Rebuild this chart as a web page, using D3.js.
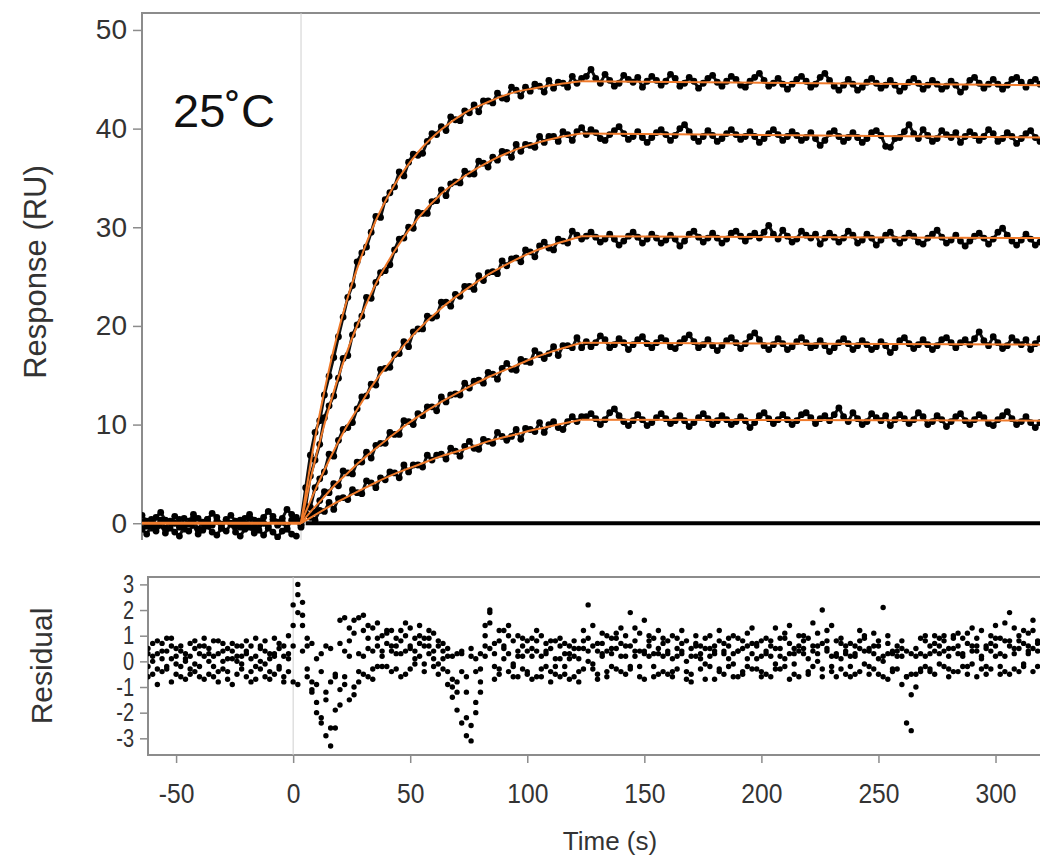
<!DOCTYPE html>
<html>
<head>
<meta charset="utf-8">
<script src="https://cdn.jsdelivr.net/npm/d3@7"></script>
<style>
  body { margin: 0; background: #fff; }
  svg { display: block; font-family: "Liberation Sans", Arial, sans-serif; }
</style>
</head>
<body>
<svg id="chart" width="1040" height="868"></svg>
<script>
// ---- sensorgram data (RU), sampled every 2 s from t = 0 ----
const dataStart = 0
const dataStep = 2
const resp1 = [0.2,3.6,6.9,9.2,10.4,13.0,14.9,16.8,18.9,20.9,22.9,24.1,26.5,27.4,28.0,29.5,31.1,31.0,32.8,33.5,34.1,35.6,35.2,36.6,37.4,37.3,37.5,38.7,39.5,39.4,40.2,39.8,41.2,40.9,40.8,41.8,41.6,42.4,41.7,42.8,42.8,42.6,43.6,43.1,43.0,44.2,43.9,43.3,44.2,43.8,44.5,44.3,43.7,44.9,44.1,44.7,44.6,44.2,45.3,44.6,45.1,
  45.3,46.0,45.1,44.6,45.5,44.9,44.3,44.6,45.4,45.0,44.7,45.2,44.2,44.8,45.3,44.9,44.4,44.8,45.5,45.1,44.3,44.6,45.2,44.8,44.1,44.6,45.1,45.4,44.7,44.3,44.8,45.3,45.0,44.4,44.2,44.8,45.2,45.6,44.9,44.3,44.6,45.1,44.5,44.0,44.5,45.0,45.3,44.8,44.2,44.5,45.2,45.6,44.9,44.3,43.9,44.4,45.0,44.5,43.9,44.2,44.7,45.1,44.6,44.1,44.4,44.9,44.4,43.8,44.2,44.7,45.1,44.6,44.0,44.4,44.9,44.5,44.0,44.3,44.8,44.4,43.7,44.2,44.9,45.2,44.6,44.1,44.5,45.0,44.5,44.0,44.4,45.0,45.2,44.7,44.2,44.7,45.0,44.5]
const resp2 = [-0.2,1.7,4.8,6.4,8.0,10.7,11.9,12.9,14.7,16.7,17.0,19.1,20.1,21.0,22.9,22.8,24.4,25.4,25.6,26.2,27.7,28.8,28.9,30.0,29.9,31.5,31.4,31.4,32.6,32.7,33.8,33.2,34.4,34.6,34.5,35.7,35.4,35.4,36.7,36.5,36.1,37.1,36.8,37.7,37.6,37.1,38.4,37.7,38.4,38.3,38.1,39.2,38.6,39.2,39.2,38.7,39.7,39.4,38.8,39.7,40.1,
  39.4,39.9,39.6,39.0,38.8,39.4,39.8,40.2,39.5,38.9,39.2,39.7,39.1,38.6,39.1,39.6,39.9,39.4,38.8,39.3,40.0,40.4,39.7,39.1,38.7,39.2,39.8,39.3,38.7,39.0,39.5,39.9,39.4,38.9,39.2,39.7,39.2,38.6,39.0,39.5,39.9,39.4,38.8,39.2,39.7,39.3,38.8,39.1,39.6,39.0,38.3,38.8,39.5,39.8,39.2,38.7,39.1,39.6,39.1,38.6,39.0,39.6,39.8,39.3,38.2,38.1,39.0,39.1,39.7,40.4,39.5,39.0,39.9,39.3,38.7,39.0,39.8,39.4,39.1,39.6,38.6,39.2,39.7,39.3,38.8,39.2,39.9,39.5,38.7,39.0,39.6,39.2,38.5,39.0,39.5,39.8,39.1,38.7]
const resp3 = [-0.1,1.6,1.6,3.6,4.5,5.2,7.0,6.8,8.4,9.5,9.7,10.2,11.6,12.8,12.9,14.1,14.0,15.6,15.7,15.8,17.1,17.2,18.4,17.9,19.4,19.7,19.7,21.0,20.8,21.0,22.4,22.4,22.0,23.2,23.0,24.0,24.0,23.7,25.1,24.6,25.4,25.5,25.3,26.6,26.1,26.8,26.9,26.5,27.7,27.5,27.0,28.1,28.5,27.9,27.7,28.8,28.6,28.4,29.6,29.2,28.8,
  29.1,29.5,29.0,28.5,28.8,29.3,28.8,28.2,28.6,29.1,29.5,29.0,28.4,28.8,29.3,28.9,28.4,28.7,29.2,28.8,28.1,28.6,29.3,29.6,29.0,28.5,28.9,29.4,28.9,28.4,28.8,29.4,29.6,29.1,28.6,29.1,29.4,28.9,29.5,30.2,29.3,28.8,29.7,29.1,28.5,28.8,29.6,29.2,28.9,29.3,28.3,28.9,29.4,29.0,28.5,28.9,29.6,29.2,28.4,28.7,29.3,28.9,28.2,28.7,29.2,29.5,28.8,28.4,28.9,29.4,29.1,28.5,28.3,28.9,29.3,29.7,29.0,28.4,28.7,29.2,28.6,28.1,28.6,29.1,29.4,28.9,28.3,28.8,29.5,29.9,29.2,28.6,28.2,28.7,29.3,28.8,28.2,28.5]
const resp4 = [0.2,1.0,0.8,1.1,2.3,3.2,3.1,4.0,3.8,5.3,5.1,5.0,6.2,6.2,7.2,6.6,7.9,8.1,8.1,9.2,9.0,9.0,10.4,10.3,10.0,11.1,10.9,11.8,11.8,11.4,12.8,12.3,13.0,13.1,13.0,14.2,13.7,14.4,14.5,14.2,15.3,15.1,14.6,15.7,16.2,15.6,15.5,16.6,16.4,16.3,17.5,17.1,16.7,17.2,17.9,17.0,18.0,18.0,17.8,18.8,17.8,
  18.4,17.9,18.3,19.0,18.6,17.8,18.1,18.7,18.3,17.6,18.1,18.6,18.9,18.2,17.8,18.3,18.8,18.5,17.9,17.7,18.3,18.7,19.1,18.4,17.8,18.1,18.6,18.0,17.5,18.0,18.5,18.8,18.3,17.7,18.2,18.9,19.3,18.6,18.0,17.6,18.1,18.7,18.2,17.6,17.9,18.4,18.8,18.3,17.8,18.0,18.5,18.0,17.4,17.8,18.3,18.7,18.2,17.6,18.0,18.5,18.1,17.6,17.9,18.4,18.0,17.3,17.8,18.5,18.8,18.2,17.7,18.1,18.6,18.1,17.6,18.0,18.6,18.8,18.3,17.8,18.3,18.6,18.1,18.7,19.4,18.5,18.0,18.9,18.3,17.7,18.0,18.8,18.4,18.1,18.6,17.6,18.2,18.7]
const resp5 = [-0.4,0.9,0.6,0.3,1.3,1.2,2.1,1.4,2.5,2.6,2.4,3.4,3.1,3.0,4.3,4.1,3.6,4.6,4.4,5.2,5.1,4.6,5.9,5.2,5.9,5.9,5.7,6.9,6.4,6.9,7.0,6.5,7.6,7.3,6.8,7.8,8.3,7.6,7.5,8.5,8.3,8.1,9.2,8.8,8.4,8.8,9.5,8.5,9.6,9.5,9.3,10.2,9.2,10.0,10.3,9.7,9.5,10.3,10.8,10.3,10.8,
  10.8,11.1,10.6,10.0,10.5,11.2,11.6,10.9,10.3,9.9,10.4,11.0,10.5,9.9,10.2,10.7,11.1,10.6,10.1,10.4,10.9,10.4,9.8,10.2,10.7,11.1,10.6,10.0,10.4,10.9,10.5,10.0,10.3,10.8,10.4,9.7,10.2,10.9,11.2,10.6,10.1,10.5,11.0,10.5,10.0,10.4,11.0,11.2,10.7,10.1,10.6,10.9,10.4,11.0,11.7,10.8,10.3,11.2,10.6,10.0,10.3,11.1,10.7,10.4,10.9,9.9,10.5,11.0,10.6,10.1,10.5,11.2,10.8,10.0,10.3,10.9,10.5,9.8,10.3,10.8,11.1,10.4,10.0,10.5,11.0,10.7,10.1,9.9,10.5,10.9,11.3,10.6,10.0,10.3,10.8,10.2,9.7,10.2]

// pre-injection baseline cloud, every 2 s from t = -68
const baseStart = -68
const baseA = [0.8,0.2,-0.5,0.6,1.1,0.3,-0.2,0.7,0.4,-0.6,0.2,0.9,0.5,-0.3,0.4,1.0,0.6,-0.1,0.3,0.8,0.2,-0.4,0.5,0.9,0.3,-0.2,0.6,1.2,0.7,0.1,0.5,1.4,0.9,0.3]
const baseB = [-0.6,-1.1,-0.3,-0.8,-0.2,-1.0,-0.5,-0.9,-1.3,-0.4,-0.8,-0.2,-1.1,-0.7,-0.3,-0.9,-1.2,-0.5,-0.8,-0.1,-0.9,-1.3,-0.6,-0.4,-1.0,-0.7,-1.2,-0.5,-0.9,-1.4,-0.8,-0.6,-1.1,-1.3]
const baseC = [0.1,-0.3,0.4,-0.2,0.3,-0.5,0.2,0.0,-0.4,0.5,-0.1,0.3,-0.6,0.1,0.4,-0.2,0.2,-0.5,0.4,0.0,-0.3,0.3,-0.1,0.5,-0.4,0.2,0.0,-0.3,0.4,-0.2,0.1,-0.5,0.3,0.6]

// zero-concentration trace
const blankTimes = [2, 316]
const blankResp = [0, 0]

// fitted curves (orange): association 0-120 s, then dissociation to 316 s
const fitTimes = [0, 5, 10, 15, 20, 25, 30, 40, 50, 60, 70, 80, 90, 100, 110, 120]
const fit1 = [0, 7.3, 13.4, 18.6, 22.9, 26.5, 29.6, 34.3, 37.6, 39.9, 41.6, 42.7, 43.6, 44.1, 44.5, 44.8]
const fit2 = [0, 5.4, 10.0, 14.1, 17.6, 20.6, 23.3, 27.6, 30.9, 33.4, 35.2, 36.6, 37.7, 38.5, 39.1, 39.5]
const fit3 = [0, 2.8, 5.4, 7.8, 10.0, 11.9, 13.8, 16.9, 19.6, 21.8, 23.6, 25.2, 26.5, 27.6, 28.4, 29.1]
const fit4 = [0, 1.4, 2.7, 4.0, 5.1, 6.2, 7.2, 9.1, 10.8, 12.3, 13.6, 14.8, 15.8, 16.8, 17.6, 18.3]
const fit5 = [0, 0.7, 1.4, 2.1, 2.7, 3.3, 3.9, 5.0, 5.9, 6.8, 7.5, 8.3, 8.9, 9.5, 10.0, 10.5]
const dissocTimes = [120, 316]
const fitEnd = [44.4, 39.1, 28.9, 18.1, 10.4]

// residuals, every 2 s from t = -62
const resStart = -62
const resA = [0.3,-0.5,0.8,0.1,-0.3,0.6,-0.1,0.4,-0.7,0.2,0.5,-0.2,0.9,0.0,-0.6,0.3,0.7,-0.4,0.1,0.6,-0.3,0.4,-0.8,0.2,0.5,-0.1,0.3,-0.5,0.7,0.2,-0.4,0.6,2.6,1.8,0.9,-0.8,-1.6,-2.2,-2.9,-3.3,-2.6,-1.7,-0.9,0.8,1.6,-0.4,1.2,0.5,-0.7,0.9,0.2,1.1,0.6,-0.3,0.8,0.4,1.3,0.1,0.7,0.9,0.3,-0.2,0.6,0.1,-0.9,-1.4,-1.9,-2.4,-2.9,-2.5,-1.6,-0.8,1.4,1.9,0.7,-0.3,0.5,1.0,-0.1,0.4,0.6,-0.5,0.2,0.8,-0.3,0.4,-0.8,0.1,0.6,-0.2,0.3,-0.6,0.5,1.2,0.4,-0.1,0.7,0.2,-0.4,0.9,0.5,1.3,0.2,-0.3,0.8,0.4,1.6,0.6,-0.2,0.3,0.7,-0.5,0.1,0.9,0.4,-0.7,0.2,0.6,-0.3,0.5,1.0,0.3,-0.4,0.7,0.1,-0.6,0.4,0.8,-0.2,0.3,0.6,-0.4,0.9,0.2,-0.1,0.5,1.1,0.3,-0.5,0.4,0.8,0.1,1.5,0.6,-0.3,0.5,0.2,-0.6,0.7,0.3,-0.2,0.6,1.2,0.4,-0.5,0.3,0.8,0.0,-0.7,0.4,0.6,-0.9,-2.4,-1.3,0.5,0.9,0.2,-0.4,0.7,0.3,0.8,-0.3,0.5,1.1,0.2,-0.5,0.6,0.9,0.1,-0.2,0.7,1.4,0.3,-0.4,0.8,0.5,1.0,-0.1,0.6,1.2,0.4]
const resB = [-0.6,0.2,-0.3,0.7,0.4,-0.8,0.5,-0.2,0.3,-0.5,-0.1,0.6,-0.7,0.3,0.8,-0.4,0.0,0.5,-0.9,0.2,0.6,-0.6,0.1,0.9,-0.3,0.4,-0.7,0.3,-0.2,0.6,1.0,2.2,3.0,1.4,-0.3,-1.2,-2.0,-2.4,-1.5,-2.6,-1.9,-1.1,1.7,1.3,-1.0,0.3,1.8,-0.6,0.4,1.5,-0.2,0.7,1.2,0.3,-0.6,1.0,0.5,-0.1,1.4,0.6,0.9,0.4,-0.5,0.7,0.2,-0.7,-1.2,-0.4,-2.2,-3.1,-2.0,-1.2,0.6,1.5,-0.2,0.8,1.2,0.3,-0.6,1.0,0.2,0.8,-0.7,0.4,1.0,-0.2,0.5,-0.5,0.9,0.3,-0.7,0.8,0.1,-0.3,2.2,0.6,-0.5,1.1,0.4,-0.2,0.9,-0.4,0.6,1.9,0.2,-0.6,0.4,1.0,0.3,-0.5,0.2,0.8,-0.4,0.5,1.2,0.0,-0.8,0.7,0.3,-0.1,0.5,-0.7,0.8,0.3,-0.2,1.0,0.4,-0.5,0.6,1.3,0.1,-0.6,0.4,0.8,-0.3,0.2,0.9,-0.7,0.5,1.0,0.3,-0.4,0.6,1.1,2.0,0.4,-0.2,0.8,0.1,-0.5,0.7,0.2,-0.4,1.0,0.5,-0.3,0.6,2.1,0.3,-0.4,0.2,0.8,0.4,-0.5,-0.5,0.3,-0.2,0.6,1.0,-0.1,0.4,-0.6,0.9,0.3,-0.2,0.7,1.3,0.4,-0.3,0.6,1.0,0.2,-0.5,0.8,1.9,0.3,-0.4,0.7,1.1,0.5,-0.2]
const resC = [0.5,0.0,-0.9,0.4,-0.2,0.9,0.2,-0.6,0.1,0.7,-0.4,0.3,0.6,-0.5,0.2,0.8,-0.3,-0.7,0.4,0.0,0.2,0.8,-0.4,-0.2,0.6,-0.6,0.1,0.9,-0.3,-0.6,0.3,-0.8,1.9,0.4,-0.6,0.7,-0.9,0.3,-1.2,0.5,-0.5,1.6,0.4,-1.5,1.1,-0.8,0.2,1.4,-0.3,0.6,1.0,-0.2,0.4,0.9,1.2,-0.5,0.6,0.9,0.2,-0.4,0.6,1.1,-0.1,0.4,-0.4,0.2,-0.8,0.3,-1.2,0.5,0.1,0.3,1.0,0.5,-0.7,1.2,0.1,-0.4,0.8,-0.6,-0.3,0.4,0.9,-0.6,0.2,0.7,-0.4,0.8,0.1,-0.5,0.6,0.2,-0.8,0.5,0.9,-0.3,0.4,0.7,-0.6,0.3,1.1,0.2,-0.5,0.6,1.3,-0.2,0.3,0.8,-0.6,0.5,0.9,0.3,-0.6,0.2,0.7,-0.4,0.5,1.0,0.1,-0.7,0.2,0.6,-0.3,0.4,0.9,-0.1,-0.6,0.5,1.1,-0.3,0.7,0.2,-0.5,0.6,1.3,-0.3,0.1,0.7,0.3,-0.6,0.5,0.9,-0.2,0.3,0.7,1.2,-0.4,0.2,0.9,0.4,-0.6,0.3,0.8,-0.1,0.4,1.1,-0.5,0.2,0.7,-0.3,0.4,0.2,-0.6,-2.7,-1.0,-0.3,0.8,0.3,-0.5,0.6,1.0,0.2,-0.4,0.6,0.9,-0.2,0.4,-0.6,1.2,0.5,-0.3,0.6,0.9,0.2,-0.5,1.3,0.8,-0.2,0.4,1.6,0.7]
const resD = [-0.2,0.7,0.3,-0.4,0.9,0.1,-0.5,0.6,0.0,-0.3,0.8,-0.6,0.2,0.5,-0.2,-0.8,0.4,0.1,0.7,-0.5,-0.1,0.3,0.6,-0.7,0.0,0.8,-0.4,0.2,0.5,-0.8,0.1,1.4,-0.9,2.3,0.6,-1.1,0.1,-0.4,0.6,-0.8,-0.6,0.7,-0.6,0.2,-1.3,1.7,-0.5,0.9,1.3,-0.2,0.4,1.2,-0.4,0.6,0.3,1.5,-0.3,0.4,1.0,-0.1,1.2,0.1,0.8,-0.3,0.5,-1.0,0.3,0.4,-0.6,0.2,-0.4,-0.3,0.2,2.0,0.3,-0.5,0.6,1.4,-0.2,0.2,0.9,-0.4,0.5,1.2,-0.6,0.3,0.8,-0.2,-0.6,0.7,0.1,0.5,-0.4,0.8,0.0,1.4,-0.7,0.3,1.0,0.5,-0.3,0.7,1.0,-0.2,0.4,1.1,-0.7,0.2,0.9,1.2,-0.4,0.4,1.0,-0.3,0.3,0.8,-0.5,0.2,0.6,0.9,-0.2,0.4,1.2,-0.5,0.6,0.3,0.9,-0.4,0.1,0.7,-0.3,0.8,0.3,-0.6,0.5,0.9,-0.2,1.4,-0.1,0.6,1.0,-0.5,0.4,0.0,-0.6,0.8,1.4,0.3,-0.3,0.6,0.2,-0.5,0.5,0.9,-0.2,0.6,0.1,-0.6,1.0,0.3,-0.3,0.5,-0.6,0.3,0.2,-0.4,1.0,-0.3,0.4,0.9,-0.2,0.5,1.0,-0.4,0.3,1.1,-0.1,0.6,0.2,-0.5,0.4,0.9,-0.2,1.5,0.6,-0.3,0.5,1.2,0.3,-0.4,0.8]

const respTicks = [0, 10, 20, 30, 40, 50]
const residTicks = [-3, -2, -1, 0, 1, 2, 3]
const timeTicks = [-50, 0, 50, 100, 150, 200, 250, 300]

// ---- layout ----
const svg = d3.select("#chart")
const textColor = "#333"
const frameColor = "#8c8c8c"
const orange = "#f07a2a"
const fontFamily = "'Liberation Sans', Arial, sans-serif"
const plainNum = d => String(d)   // keep hyphen-minus like the original

const panelTop = { left: 142, right: 1046, top: 13, bottom: 540 }
const panelRes = { left: 148, right: 1046, top: 577, bottom: 755 }

const xTop = d3.scaleLinear().domain([-68, 316]).range([142, 1040])
const yTop = d3.scaleLinear().domain([-1.7, 51.75]).range([540, 12.7])
const xRes = d3.scaleLinear().domain([-62, 319]).range([148, 1040])
const yRes = d3.scaleLinear().domain([-3.65, 3.3]).range([755, 576.7])

const defs = svg.append("defs")
defs.append("clipPath").attr("id", "clipTop").append("rect")
  .attr("x", panelTop.left).attr("y", panelTop.top)
  .attr("width", panelTop.right - panelTop.left).attr("height", panelTop.bottom - panelTop.top)
defs.append("clipPath").attr("id", "clipRes").append("rect")
  .attr("x", panelRes.left).attr("y", panelRes.top)
  .attr("width", panelRes.right - panelRes.left).attr("height", panelRes.bottom - panelRes.top)

// ---- top panel ----
const gTop = svg.append("g")

// frame: top + left edges only
gTop.append("path")
  .attr("d", `M${panelTop.left},${panelTop.bottom}V${panelTop.top}H${panelTop.right}`)
  .attr("fill", "none").attr("stroke", frameColor).attr("stroke-width", 2)

gTop.append("line")
  .attr("x1", xTop(0)).attr("x2", xTop(0))
  .attr("y1", panelTop.top).attr("y2", panelTop.bottom)
  .attr("stroke", "#cfcfcf").attr("stroke-width", 1)

const plotTop = gTop.append("g").attr("clip-path", "url(#clipTop)")

const toPoints = (arr, start, step) => arr.map((v, i) => [start + i * step, v])

const traceLine = d3.line().x(d => xTop(d[0])).y(d => yTop(d[1]))

const allTraces = [
  toPoints(baseA, baseStart, 2),
  toPoints(baseB, baseStart, 2),
  toPoints(baseC, baseStart, 2),
  toPoints(resp1, dataStart, dataStep),
  toPoints(resp2, dataStart, dataStep),
  toPoints(resp3, dataStart, dataStep),
  toPoints(resp4, dataStart, dataStep),
  toPoints(resp5, dataStart, dataStep)
]

allTraces.forEach(pts => {
  plotTop.append("path")
    .attr("d", traceLine(pts))
    .attr("fill", "none").attr("stroke", "#111").attr("stroke-width", 3)
    .attr("stroke-linejoin", "round")
  plotTop.append("g").selectAll("circle")
    .data(pts)
    .join("circle")
    .attr("cx", d => xTop(d[0]))
    .attr("cy", d => yTop(d[1]))
    .attr("r", 3.4)
    .attr("fill", "#000")
})

// zero-concentration trace
plotTop.append("path")
  .attr("d", traceLine(blankTimes.map((t, i) => [t, blankResp[i]])))
  .attr("stroke", "#000").attr("stroke-width", 4)

// fits
plotTop.append("path")
  .attr("d", traceLine([[-68, 0], [0, 0]]))
  .attr("stroke", orange).attr("stroke-width", 3)

const fitCurve = d3.line().x(d => xTop(d[0])).y(d => yTop(d[1])).curve(d3.curveMonotoneX)
const fits = [fit1, fit2, fit3, fit4, fit5]
fits.forEach((f, k) => {
  plotTop.append("path")
    .attr("d", fitCurve(fitTimes.map((t, i) => [t, f[i]])))
    .attr("fill", "none").attr("stroke", orange).attr("stroke-width", 2)
  plotTop.append("path")
    .attr("d", traceLine([[dissocTimes[0], f[f.length - 1]], [dissocTimes[1], fitEnd[k]]]))
    .attr("fill", "none").attr("stroke", orange).attr("stroke-width", 2)
})

// y axis
const yAxisTop = gTop.append("g")
  .attr("transform", `translate(${panelTop.left - 1},0)`)
  .call(d3.axisLeft(yTop).tickValues(respTicks).tickFormat(plainNum).tickSize(8).tickPadding(6))
yAxisTop.select(".domain").remove()
yAxisTop.selectAll("line").attr("stroke", frameColor).attr("stroke-width", 1.5)
yAxisTop.selectAll("text")
  .attr("fill", textColor).attr("font-size", 28)
  .attr("font-family", fontFamily)

svg.append("text")
  .attr("transform", `translate(46,272) rotate(-90)`)
  .attr("text-anchor", "middle")
  .attr("font-size", 31).attr("fill", textColor)
  .text("Response (RU)")

svg.append("text")
  .attr("x", 173).attr("y", 127)
  .attr("font-size", 47).attr("fill", "#111")
  .text("25˚C")

// ---- residual panel ----
const gRes = svg.append("g")

gRes.append("rect")
  .attr("x", panelRes.left).attr("y", panelRes.top)
  .attr("width", panelRes.right - panelRes.left).attr("height", panelRes.bottom - panelRes.top)
  .attr("fill", "none").attr("stroke", frameColor).attr("stroke-width", 2)

gRes.append("line")
  .attr("x1", xRes(0)).attr("x2", xRes(0))
  .attr("y1", panelRes.top).attr("y2", panelRes.bottom)
  .attr("stroke", "#cfcfcf").attr("stroke-width", 1)

const plotRes = gRes.append("g").attr("clip-path", "url(#clipRes)")
;[resA, resB, resC, resD].forEach(arr => {
  plotRes.append("g").selectAll("circle")
    .data(toPoints(arr, resStart, 2))
    .join("circle")
    .attr("cx", d => xRes(d[0]))
    .attr("cy", d => yRes(d[1]))
    .attr("r", 2.7)
    .attr("fill", "#000")
})

const yAxisRes = gRes.append("g")
  .attr("transform", `translate(${panelRes.left - 1},0)`)
  .call(d3.axisLeft(yRes).tickValues(residTicks).tickFormat(plainNum).tickSize(7).tickPadding(6))
yAxisRes.select(".domain").remove()
yAxisRes.selectAll("line").attr("stroke", frameColor).attr("stroke-width", 1.5)
yAxisRes.selectAll("text")
  .attr("fill", textColor).attr("font-size", 25)
  .attr("font-family", fontFamily)
  .attr("x", -13 / 0.8)
  .attr("transform", "scale(0.8,1)")

const xAxisRes = gRes.append("g")
  .attr("transform", `translate(0,${panelRes.bottom + 1})`)
  .call(d3.axisBottom(xRes).tickValues(timeTicks).tickFormat(plainNum).tickSize(7).tickPadding(20))
xAxisRes.select(".domain").remove()
xAxisRes.selectAll("line").attr("stroke", frameColor).attr("stroke-width", 1.5)
xAxisRes.selectAll("text")
  .attr("fill", textColor).attr("font-size", 28)
  .attr("font-family", fontFamily)
  .attr("transform", "scale(0.88,1)")

svg.append("text")
  .attr("transform", `translate(52,666) rotate(-90)`)
  .attr("text-anchor", "middle")
  .attr("font-size", 30).attr("fill", textColor)
  .text("Residual")

svg.append("text")
  .attr("x", 610).attr("y", 850)
  .attr("text-anchor", "middle")
  .attr("font-size", 26).attr("fill", textColor)
  .text("Time (s)")
</script>
</body>
</html>
